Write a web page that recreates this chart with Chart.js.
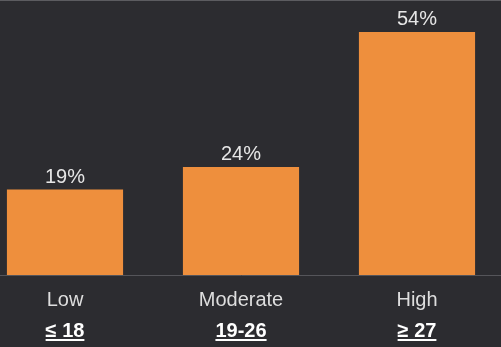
<!DOCTYPE html>
<html>
<head>
<meta charset="utf-8">
<script src="https://cdn.jsdelivr.net/npm/chart.js@4/dist/chart.umd.min.js"></script>
<style>
  html, body { margin: 0; padding: 0; width: 501px; height: 347px; overflow: hidden; background: #2c2c30; }
  #topline { position: absolute; left: 0; top: 0; width: 501px; height: 1px; background: #5c5c60; z-index: 2; }
  #wrap { position: absolute; left: -23px; top: 0; width: 528px; height: 347px; }
</style>
</head>
<body>
<div id="topline"></div>
<div id="wrap"><canvas id="c"></canvas></div>
<script>
const categories = ["Low", "Moderate", "High"];
const ranges = ["≤ 18", "19-26", "≥ 27"];
const values = [19, 24, 54];
const valueLabels = ["19%", "24%", "54%"];

const FONT = "'Liberation Sans', Arial, Helvetica, sans-serif";

const labelPlugin = {
  id: 'labels',
  afterDatasetsDraw(chart) {
    const ctx = chart.ctx;
    const meta = chart.getDatasetMeta(0);
    const xs = chart.scales.x;
    ctx.save();
    // value labels
    ctx.font = "20px " + FONT;
    ctx.fillStyle = "#e6e6e6";
    ctx.textAlign = "center";
    ctx.textBaseline = "alphabetic";
    meta.data.forEach((bar, i) => {
      ctx.fillText(valueLabels[i], bar.x, bar.y - 7);
    });
    // range labels, bold + underlined
    ctx.font = "bold 20px " + FONT;
    ctx.fillStyle = "#ffffff";
    ranges.forEach((r, i) => {
      const x = xs.getPixelForValue(i);
      const y = 337;
      ctx.fillText(r, x, y);
      const w = ctx.measureText(r).width;
      ctx.fillRect(x - w / 2, y + 2, w, 2);
    });
    ctx.restore();
  }
};

new Chart(document.getElementById('c'), {
  type: 'bar',
  data: {
    labels: categories,
    datasets: [{
      data: values,
      backgroundColor: '#ee8f3d',
      borderWidth: 0,
      categoryPercentage: 1,
      barPercentage: 0.66
    }]
  },
  options: {
    responsive: true,
    maintainAspectRatio: false,
    animation: false,
    layout: { padding: { top: 5, left: 0, right: 0, bottom: 0 } },
    plugins: { legend: { display: false }, tooltip: { enabled: false } },
    scales: {
      x: {
        grid: { display: false, drawTicks: false },
        border: { display: true, color: '#55555a', width: 1 },
        ticks: { color: '#dedede', font: { family: FONT, size: 20 }, padding: 13, maxRotation: 0 },
        afterFit: (scale) => { scale.height = 72; }
      },
      y: {
        display: false,
        min: 0,
        max: 60
      }
    }
  },
  plugins: [labelPlugin]
});
</script>
</body>
</html>
